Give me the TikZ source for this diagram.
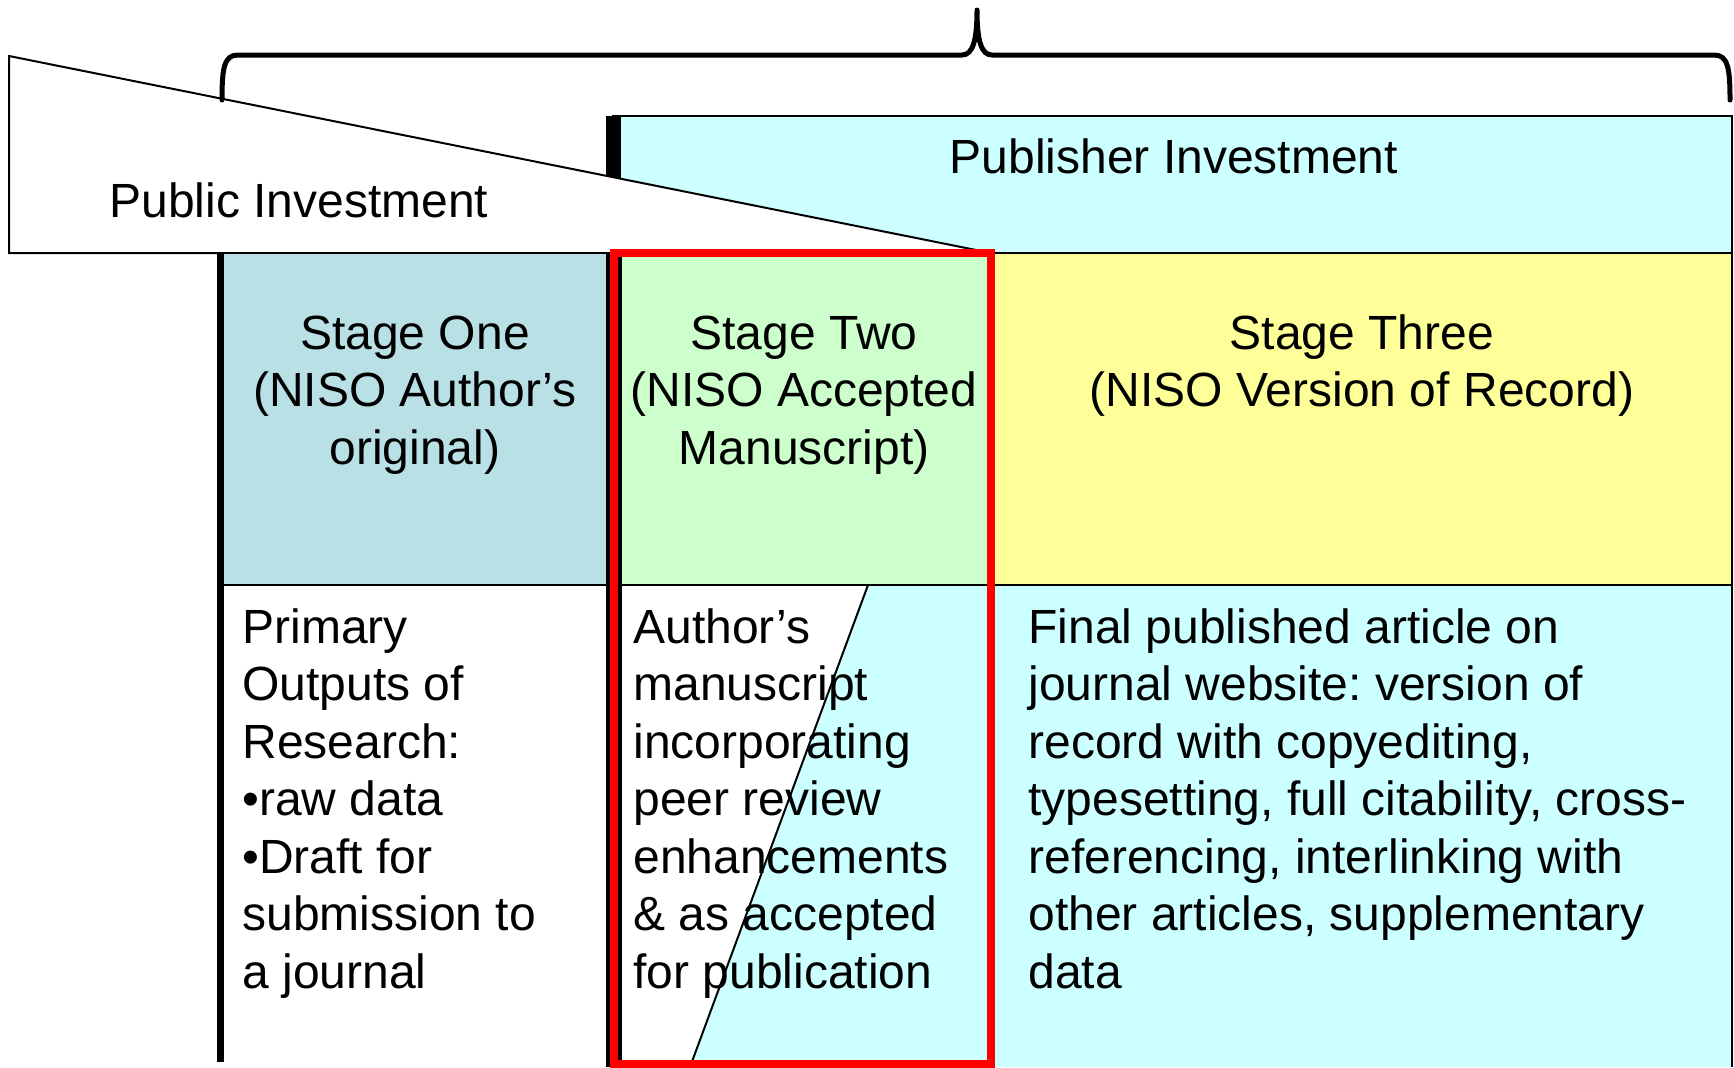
\documentclass[tikz,border=0pt]{standalone}
\usepackage{fontspec}
\setmainfont{Liberation Sans}
\frenchspacing
\definecolor{pubcyan}{RGB}{204,255,255}
\definecolor{stageone}{RGB}{185,224,228}
\definecolor{stagetwo}{RGB}{204,255,204}
\definecolor{stagethree}{RGB}{255,255,153}
\begin{document}
\begin{tikzpicture}[x=0.5pt,y=-0.5pt,
  thinline/.style={draw=black,line width=1pt},
  txt/.style={inner sep=0pt,font=\fontsize{24pt}{28.75pt}\selectfont},
  bar/.style={draw=black,line cap=butt},
]
\useasboundingbox (0,0) rectangle (1734,1067);
% publisher investment box
\filldraw[fill=pubcyan,thinline] (613,116) rectangle (1732,253);
\draw[bar,line width=7.5pt] (613.5,116) -- (613.5,253);
% public investment wedge
\filldraw[fill=white,thinline,line join=miter] (9,56) -- (9,253) -- (991,253) -- cycle;
% brace
\draw[line width=2.5pt,line cap=round,line join=round]
  (222,100) .. controls (222,68) and (224,55) .. (238,55) -- (962,55)
  .. controls (973,55) and (977,40) .. (977,10)
  .. controls (977,40) and (981,55) .. (992,55) -- (1714,55)
  .. controls (1728,55) and (1730,68) .. (1730,100);
% header row
\filldraw[fill=stageone,thinline] (220,253) rectangle (613,585);
\filldraw[fill=stagetwo,thinline] (613,253) rectangle (991,585);
\filldraw[fill=stagethree,thinline] (991,253) rectangle (1732,585);
% content row
\fill[white] (220,585) rectangle (613,1067);
\fill[white] (613,585) rectangle (991,1067);
\fill[pubcyan] (868,585) -- (991,585) -- (991,1067) -- (690,1067) -- cycle;
\draw[thinline] (868,585) -- (690,1067);
\fill[pubcyan] (991,585) rectangle (1732,1067);
\draw[thinline] (220,585) -- (1732,585);
\draw[thinline] (1732,585) -- (1732,1067);
% thick black verticals
\draw[bar,line width=3.5pt] (220.5,253) -- (220.5,1062);
\draw[bar,line width=8pt] (614,253) -- (614,1067);
% red frame
\draw[draw=red,line width=4pt] (614,252.5) rectangle (991,1064);
% texts
\node[txt,anchor=base west] (publictxt) at (109,217) {Public Investment};
\node[txt,anchor=base] (publishertxt) at (1174,173) {Publisher Investment};
\node[txt,anchor=base] (s1head) at (415,349)
  {\begin{tabular}[t]{@{}c@{}}Stage One\\(NISO Author’s\\original)\end{tabular}};
\node[txt,anchor=base] (s2head) at (804,349)
  {\begin{tabular}[t]{@{}c@{}}Stage Two\\(NISO Accepted\\Manuscript)\end{tabular}};
\node[txt,anchor=base] (s3head) at (1362,349)
  {\begin{tabular}[t]{@{}c@{}}Stage Three\\(NISO Version of Record)\end{tabular}};
\node[txt,anchor=base west] (s1body) at (242,643)
  {\begin{tabular}[t]{@{}l@{}}Primary\\Outputs of\\Research:\\•raw data\\•Draft for\\submission to\\a journal\end{tabular}};
\node[txt,anchor=base west] (s2body) at (633,643)
  {\begin{tabular}[t]{@{}l@{}}Author’s\\manuscript\\incorporating\\peer review\\enhancements\\\& as accepted\\for publication\end{tabular}};
\node[txt,anchor=base west] (s3body) at (1028,643)
  {\begin{tabular}[t]{@{}l@{}}Final published article on\\journal website: version of\\record with copyediting,\\typesetting, full citability, cross-\\referencing, interlinking with\\other articles, supplementary\\data\end{tabular}};
\end{tikzpicture}
\end{document}
